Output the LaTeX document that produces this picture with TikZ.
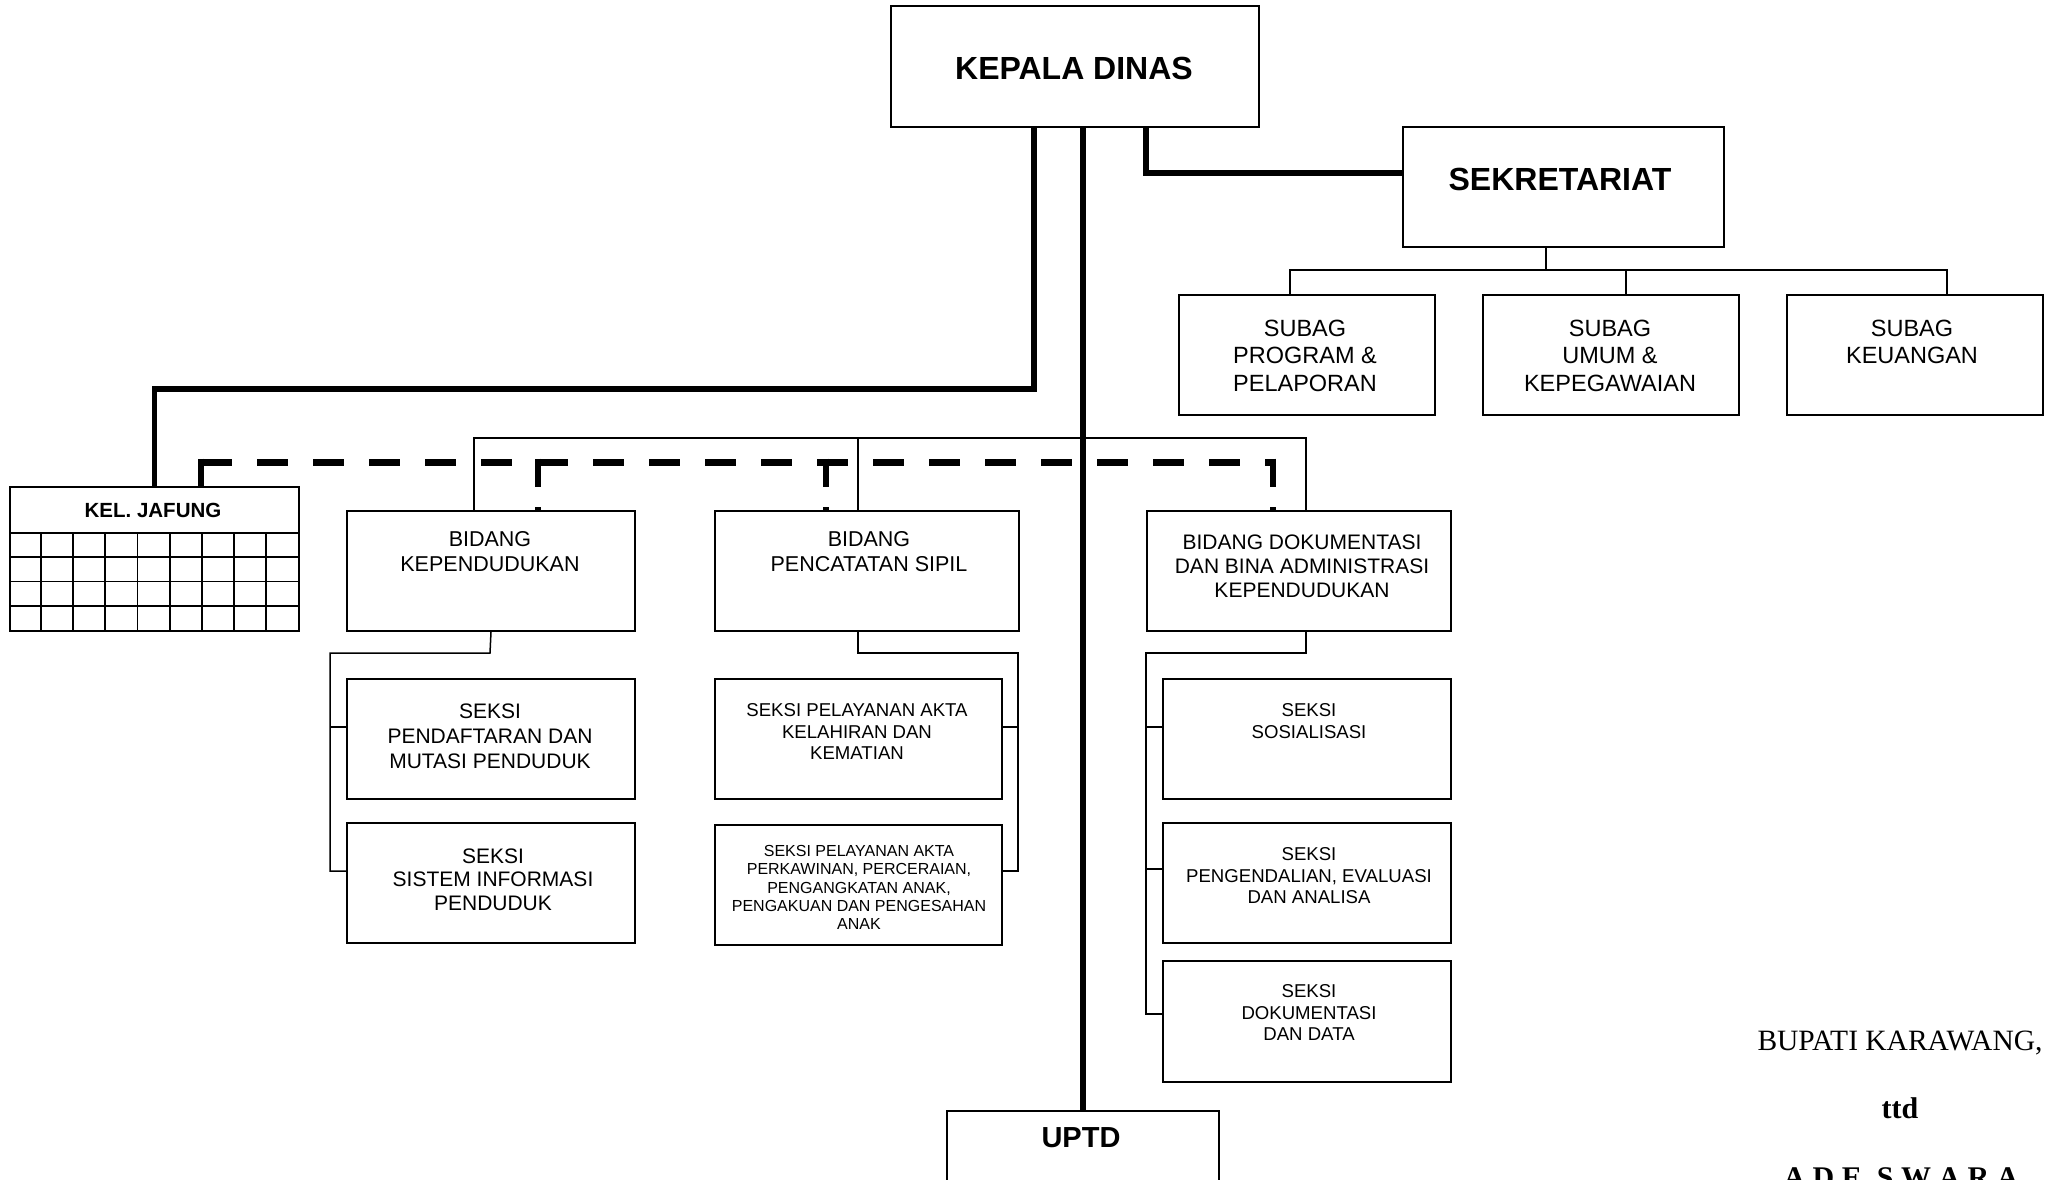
\documentclass[tikz,border=0pt]{standalone}
\usepackage{fontspec}
\setmainfont{Liberation Sans}
\newfontfamily\sigfamily{Liberation Serif}
\newcommand\setfs[2]{\fontsize{#1}{#2}\selectfont}
\tikzset{
  orgbox/.style={draw, line width=2pt, inner sep=0pt, anchor=north west},
  txt/.style={align=center, inner sep=0pt, anchor=north},
  thickline/.style={line width=5.5pt},
  thinline/.style={line width=1.5pt},
  dashh/.style={line width=7pt, dash pattern=on 31pt off 25pt},
  dashv/.style={line width=6pt, dash pattern=on 28.5pt off 20pt},
  gridline/.style={line width=1.8pt},
  sig/.style={inner sep=0pt, anchor=base, font=\sigfamily\setfs{29.5}{32}}
}
\begin{document}
\begin{tikzpicture}[x=1pt,y=-1pt,line join=miter]
\useasboundingbox (0,0) rectangle (2047,1179);

% ---------- boxes ----------
\node[orgbox, minimum width=368pt, minimum height=121pt] (kd) at (890,5) {};
\node[orgbox, minimum width=321pt, minimum height=120pt] (sek) at (1402,126) {};
\node[orgbox, minimum width=256pt, minimum height=120pt] (sb1) at (1178,294) {};
\node[orgbox, minimum width=256pt, minimum height=120pt] (sb2) at (1482,294) {};
\node[orgbox, minimum width=256pt, minimum height=120pt] (sb3) at (1786,294) {};
\node[orgbox, minimum width=289pt, minimum height=144pt] (kj) at (9,486) {};
\node[orgbox, minimum width=288pt, minimum height=120pt] (bidkep) at (346,510) {};
\node[orgbox, minimum width=304pt, minimum height=120pt] (bidpen) at (714,510) {};
\node[orgbox, minimum width=304pt, minimum height=120pt] (bidok) at (1146,510) {};
\node[orgbox, minimum width=288pt, minimum height=120pt] (sk1) at (346,678) {};
\node[orgbox, minimum width=288pt, minimum height=120pt] (sk2) at (346,822) {};
\node[orgbox, minimum width=287pt, minimum height=120pt] (sp1) at (714,678) {};
\node[orgbox, minimum width=287pt, minimum height=120pt] (sp2) at (714,824) {};
\node[orgbox, minimum width=288pt, minimum height=120pt] (sd1) at (1162,678) {};
\node[orgbox, minimum width=288pt, minimum height=120pt] (sd2) at (1162,822) {};
\node[orgbox, minimum width=288pt, minimum height=121pt] (sd3) at (1162,960) {};
\node[orgbox, minimum width=272pt, minimum height=140pt] (uptd) at (946,1110) {};

% ---------- grid of KEL. JAFUNG ----------
\foreach \yy in {533,557.25,581.5,605.75} \draw[gridline] (9,\yy) -- (298,\yy);
\foreach \xx in {41.1,73.2,105.3,137.4,169.6,201.7,233.8,265.9} \draw[gridline] (\xx,533) -- (\xx,630);

% ---------- texts ----------
\node[txt, font=\bfseries\setfs{32}{36}] (kdT) at (1074,56.5) {KEPALA DINAS};
\node[txt, font=\bfseries\setfs{32}{36}] (sekT) at (1560,167.5) {SEKRETARIAT};
\node[txt, font=\setfs{23.5}{27.5}] (sb1T) at (1305,319.6) {SUBAG\\PROGRAM \&\\PELAPORAN};
\node[txt, font=\setfs{23.5}{27.5}] (sb2T) at (1610,319.6) {SUBAG\\UMUM \&\\KEPEGAWAIAN};
\node[txt, font=\setfs{23.5}{27.5}] (sb3T) at (1912,319.6) {SUBAG\\KEUANGAN};
\node[txt, font=\bfseries\setfs{20.5}{24}] (kjT) at (153,502.7) {KEL. JAFUNG};
\node[txt, font=\setfs{21.5}{25}] (bidkepT) at (490,531.3) {BIDANG\\KEPENDUDUKAN};
\node[txt, font=\setfs{21.5}{25}] (bidpenT) at (869,531.3) {BIDANG\\PENCATATAN SIPIL};
\node[txt, font=\setfs{21}{24}] (bidokT) at (1302,534.5) {BIDANG DOKUMENTASI\\DAN BINA ADMINISTRASI\\KEPENDUDUKAN};
\node[txt, font=\setfs{21}{25}] (sk1T) at (490,703.5) {SEKSI\\PENDAFTARAN DAN\\MUTASI PENDUDUK};
\node[txt, font=\setfs{21}{23.5}] (sk2T) at (493,848.5) {SEKSI\\SISTEM INFORMASI\\PENDUDUK};
\node[txt, font=\setfs{18.6}{21.5}] (sp1T) at (857,703.3) {SEKSI PELAYANAN AKTA\\KELAHIRAN DAN\\KEMATIAN};
\node[txt, font=\setfs{16}{18.3}] (sp2T) at (859,845.3) {SEKSI PELAYANAN AKTA\\PERKAWINAN, PERCERAIAN,\\PENGANGKATAN ANAK,\\PENGAKUAN DAN PENGESAHAN\\ANAK};
\node[txt, font=\setfs{18.6}{22}] (sd1T) at (1309,703.3) {SEKSI\\SOSIALISASI};
\node[txt, font=\setfs{18.6}{21.5}] (sd2T) at (1309,847.3) {SEKSI\\PENGENDALIAN, EVALUASI\\DAN ANALISA};
\node[txt, font=\setfs{18.6}{21.5}] (sd3T) at (1309,984.3) {SEKSI\\DOKUMENTASI\\DAN DATA};
\node[txt, font=\bfseries\setfs{29}{32}] (uptdT) at (1081,1127.6) {UPTD};

% ---------- signature ----------
\node[sig] (bup) at (1900,1050) {BUPATI KARAWANG,};
\node[sig, font=\sigfamily\bfseries\setfs{30}{32}] (ttd) at (1900,1118) {ttd};
\node[sig, font=\sigfamily\bfseries\setfs{30}{32}] (ade) at (1901,1187) {A D E\ \ S W A R A};

% ---------- thick connectors ----------
\coordinate (a1) at (1034,389);
\draw[thickline] (kd.south -| a1) -- (a1) -| (kj.north);
\draw[thickline] (kd.south -| uptd.north) -- (uptd.north);
\coordinate (a3) at (1146,173);
\draw[thickline] (kd.south -| a3) -- (a3) -- (sek.west |- a3);

% ---------- sekretariat children ----------
\coordinate (s0) at (1546,270);
\coordinate (sL) at (1290,270);
\coordinate (sM) at (1626,270);
\coordinate (sR) at (1947,270);
\draw[thinline] (sek.south -| s0) -- (s0);
\draw[thinline] (sb1.north -| sL) -- (sL) -- (sR) -- (sb3.north -| sR);
\draw[thinline] (sM) -- (sb2.north -| sM);

% ---------- bidang bus ----------
\coordinate (bL) at (474,438);
\coordinate (bM) at (858,438);
\coordinate (bR) at (1306,438);
\draw[thinline] (bidkep.north -| bL) -- (bL) -- (bR) -- (bidok.north -| bR);
\draw[thinline] (bM) -- (bidpen.north -| bM);

% ---------- dashed coordination line ----------
\coordinate (d1) at (201,462);
\coordinate (d2) at (538,462);
\coordinate (d3) at (826,462);
\coordinate (d4) at (1273,462);
\draw[dashh] (d1) -- ([xshift=3pt]d4);
\draw[dashv] ([yshift=3.5pt]d1) -- (kj.north -| d1);
\draw[dashv] ([yshift=3.5pt]d2) -- (bidkep.north -| d2);
\draw[dashv] ([yshift=3.5pt]d3) -- (bidpen.north -| d3);
\draw[dashv] ([yshift=3.5pt]d4) -- (bidok.north -| d4);

% ---------- seksi connectors ----------
\coordinate (k0) at (490,653);
\coordinate (k1) at (330,727);
\coordinate (k2) at (330,871);
\draw[thinline] (bidkep.south) -- (k0) -| (k2) -- (sk2.west |- k2);
\draw[thinline] (k1) -- (sk1.west |- k1);

\coordinate (p0) at (858,653);
\coordinate (p1) at (1018,727);
\coordinate (p2) at (1018,871);
\draw[thinline] (bidpen.south -| p0) -- (p0) -| (p2) -- (sp2.east |- p2);
\draw[thinline] (p1) -- (sp1.east |- p1);

\coordinate (q0) at (1306,653);
\coordinate (q1) at (1146,727);
\coordinate (q2) at (1146,869);
\coordinate (q3) at (1146,1014);
\draw[thinline] (bidok.south -| q0) -- (q0) -| (q3) -- (sd3.west |- q3);
\draw[thinline] (q1) -- (sd1.west |- q1);
\draw[thinline] (q2) -- (sd2.west |- q2);
\end{tikzpicture}
\end{document}
